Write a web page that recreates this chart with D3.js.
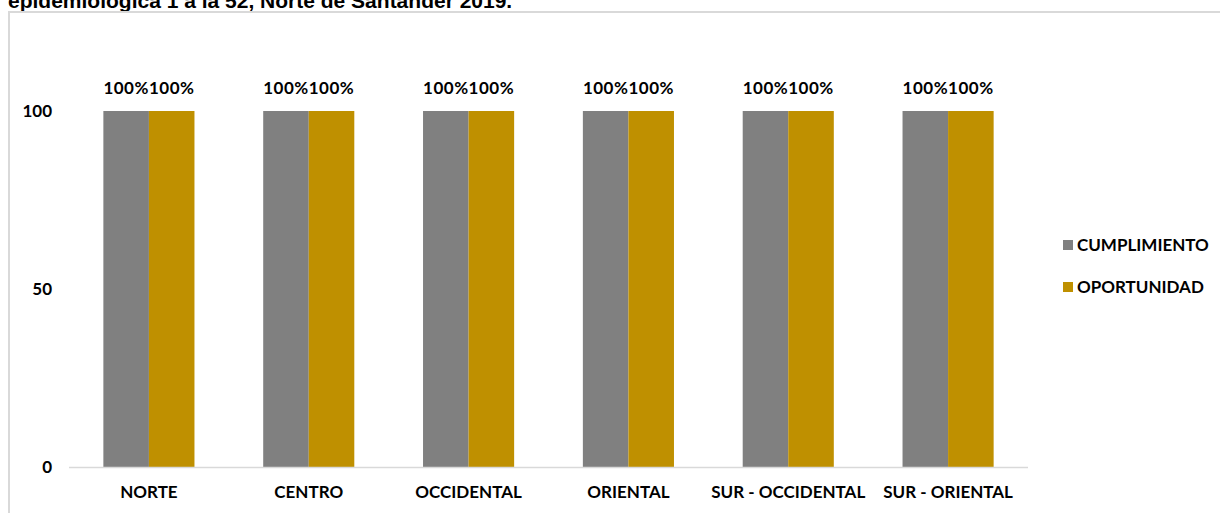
<!DOCTYPE html>
<html><head><meta charset="utf-8">
<script src="https://cdn.jsdelivr.net/npm/d3@7"></script>
<style>body{margin:0;background:#fff}svg{display:block}</style>
</head><body>
<script>
const categories = ["NORTE","CENTRO","OCCIDENTAL","ORIENTAL","SUR - OCCIDENTAL","SUR - ORIENTAL"];
const seriesNames = ["CUMPLIMIENTO","OPORTUNIDAD"];
const cumplimiento = [100,100,100,100,100,100];
const oportunidad = [100,100,100,100,100,100];
const yTicks = [0,50,100];
const colors = ["#808080","#BF9000"];
const title = "epidemiológica 1 a la 52, Norte de Santander 2019.";

const W=1220,H=513;
const svg=d3.select("body").append("svg").attr("width",W).attr("height",H);
const font="Lato, 'Open Sans', sans-serif";
const fs=17;

svg.append("text").attr("x",8).attr("y",8).text(title)
  .attr("font-family","Liberation Sans, Arial, sans-serif").attr("font-weight","bold").attr("font-size",21).attr("fill","#000");

// frame
svg.append("path").attr("d",`M9,${H+2}V12H${W+2}`).attr("fill","none").attr("stroke","#d9d9d9").attr("stroke-width",2);

const x0=d3.scaleBand().domain(categories).range([69,1028]).paddingInner(0.43).paddingOuter(0.215);
const x1=d3.scaleBand().domain(seriesNames).range([0,x0.bandwidth()]);
const y=d3.scaleLinear().domain([0,100]).range([467,111]);

const data=categories.map((c,i)=>({cat:c,vals:[cumplimiento[i],oportunidad[i]]}));

const g=svg.append("g");
g.selectAll("g.grp").data(data).join("g").attr("transform",d=>`translate(${x0(d.cat)},0)`)
 .each(function(d){
   const s=d3.select(this);
   s.selectAll("rect").data(d.vals.map((v,k)=>({v,k}))).join("rect")
     .attr("x",e=>x1(seriesNames[e.k])).attr("width",x1.bandwidth())
     .attr("y",e=>y(e.v)).attr("height",e=>y(0)-y(e.v)).attr("fill",e=>colors[e.k]);
   s.append("text").attr("x",x0.bandwidth()/2).attr("y",y(Math.max(...d.vals))-17)
     .attr("text-anchor","middle").attr("font-family",font).attr("font-weight","bold").attr("font-size",fs)
     .attr("letter-spacing",0.5)
     .text(d.vals.map(v=>v+"%").join(""));
 });

// baseline
svg.append("line").attr("x1",69).attr("x2",1028).attr("y1",y(0)+0.5).attr("y2",y(0)+0.5).attr("stroke","#d9d9d9").attr("stroke-width",1.5);

// y axis labels
const ya=svg.append("g").attr("transform","translate(52,0)").call(d3.axisLeft(y).tickValues(yTicks).tickSize(0).tickPadding(0));
ya.select(".domain").remove();
ya.selectAll("text").attr("font-family",font).attr("font-weight","bold").attr("font-size",fs).attr("fill","#000");

// x axis labels
const xa=svg.append("g").attr("transform",`translate(0,${y(0)})`).call(d3.axisBottom(x0).tickSize(0).tickPadding(19));
xa.select(".domain").remove();
xa.selectAll("text").attr("font-family",font).attr("font-weight","bold").attr("font-size",fs).attr("fill","#000");

// legend
const lg=svg.append("g");
seriesNames.forEach((n,i)=>{
  const yy=245+i*42;
  lg.append("rect").attr("x",1063).attr("y",yy-5).attr("width",10).attr("height",10).attr("fill",colors[i]);
  lg.append("text").attr("x",1077).attr("y",yy).attr("dy","0.35em").text(n)
    .attr("font-family",font).attr("font-weight","bold").attr("font-size",fs).attr("fill","#000");
});
</script>
</body></html>
